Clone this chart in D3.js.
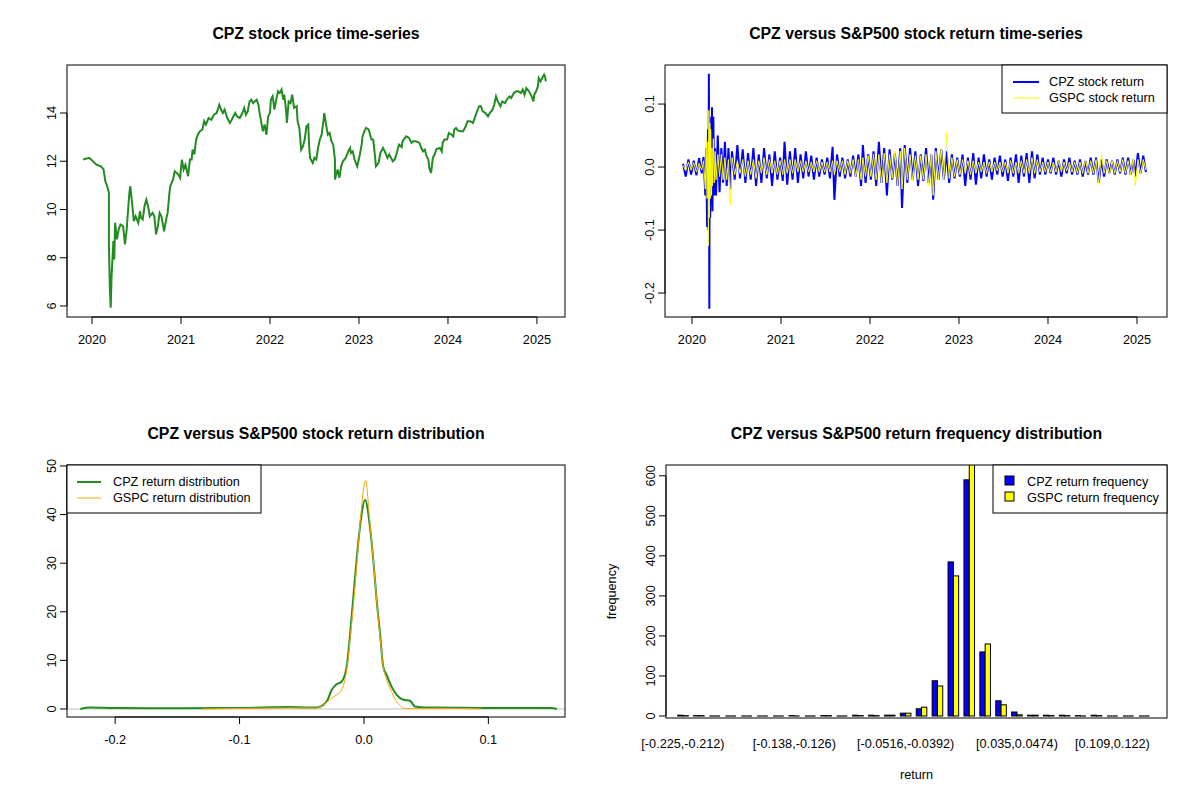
<!DOCTYPE html>
<meta charset="utf-8">
<head>
<title>CPZ vs S&amp;P500</title>
<style>
  body { margin: 0; background: #fff; }
  text { font-family: "Liberation Sans", Arial, sans-serif; fill: #000; }
  .title { font-size: 15.8px; font-weight: bold; }
  .tick { font-size: 12.7px; }
  .leg { font-size: 12.7px; }
</style>
</head>
<body>
<script src="https://cdn.jsdelivr.net/npm/d3@7"></script>
<script>
// ---- data ----
var priceDates = [2019.90,2019.97,2020.01,2020.05,2020.10,2020.13,2020.15,2020.17,2020.19,2020.19,2020.20,2020.21,2020.22,2020.24,2020.25,2020.26,2020.28,2020.30,2020.32,2020.35,2020.37,2020.39,2020.40,2020.42,2020.43,2020.45,2020.47,2020.49,2020.52,2020.54,2020.55,2020.57,2020.59,2020.61,2020.63,2020.65,2020.68,2020.70,2020.72,2020.74,2020.76,2020.78,2020.81,2020.84,2020.85,2020.87,2020.88,2020.91,2020.93,2020.97,2020.99,2021.01,2021.03,2021.05,2021.08,2021.10,2021.12,2021.13,2021.15,2021.17,2021.19,2021.21,2021.24,2021.26,2021.28,2021.31,2021.34,2021.37,2021.40,2021.43,2021.45,2021.47,2021.49,2021.52,2021.55,2021.57,2021.58,2021.61,2021.63,2021.66,2021.69,2021.71,2021.73,2021.75,2021.77,2021.79,2021.81,2021.85,2021.87,2021.88,2021.90,2021.92,2021.94,2021.96,2021.98,2022.00,2022.01,2022.03,2022.05,2022.07,2022.09,2022.11,2022.13,2022.15,2022.16,2022.18,2022.19,2022.21,2022.23,2022.25,2022.27,2022.30,2022.31,2022.33,2022.35,2022.37,2022.39,2022.41,2022.43,2022.44,2022.45,2022.48,2022.50,2022.52,2022.54,2022.56,2022.58,2022.60,2022.61,2022.63,2022.65,2022.67,2022.69,2022.71,2022.73,2022.73,2022.76,2022.78,2022.80,2022.82,2022.85,2022.88,2022.90,2022.91,2022.93,2022.95,2022.98,2023.01,2023.03,2023.04,2023.06,2023.08,2023.11,2023.14,2023.16,2023.18,2023.19,2023.22,2023.24,2023.27,2023.29,2023.32,2023.34,2023.36,2023.38,2023.40,2023.42,2023.45,2023.48,2023.49,2023.53,2023.56,2023.59,2023.61,2023.64,2023.68,2023.70,2023.72,2023.74,2023.76,2023.78,2023.79,2023.81,2023.83,2023.85,2023.87,2023.91,2023.93,2023.94,2023.96,2023.99,2024.01,2024.04,2024.06,2024.07,2024.09,2024.11,2024.14,2024.17,2024.20,2024.22,2024.25,2024.28,2024.30,2024.32,2024.35,2024.37,2024.39,2024.42,2024.45,2024.47,2024.50,2024.52,2024.54,2024.56,2024.59,2024.61,2024.64,2024.66,2024.69,2024.71,2024.74,2024.77,2024.79,2024.82,2024.84,2024.86,2024.88,2024.91,2024.94,2024.96,2024.97,2024.99,2025.01,2025.02,2025.04,2025.06,2025.08,2025.09,2025.10];
var priceValues = [12.07,12.14,12.00,11.86,11.79,11.66,11.17,10.97,10.69,8.55,6.83,5.93,7.24,8.69,7.93,9.45,8.76,9.17,9.38,9.31,8.55,9.17,9.72,10.69,10.97,10.28,9.52,9.72,9.45,9.93,9.66,9.59,10.14,10.41,10.14,9.72,9.86,9.72,8.97,9.31,9.86,9.72,9.10,9.72,9.86,10.69,10.97,11.24,11.59,11.45,11.31,12.07,11.66,11.86,11.38,12.07,12.07,12.48,12.28,12.90,13.10,13.24,13.31,13.66,13.52,13.79,13.72,13.93,14.00,14.34,14.14,14.00,14.14,13.79,13.59,13.72,13.79,14.00,13.86,13.79,14.00,14.21,13.93,14.07,14.48,14.55,14.41,14.55,14.34,14.07,13.66,13.24,13.52,13.10,13.86,14.00,14.55,14.69,14.14,14.55,14.90,14.83,14.97,14.55,14.76,14.14,13.59,14.48,14.41,14.76,14.21,14.28,13.66,13.38,12.48,12.62,12.90,13.45,13.52,12.62,12.14,11.93,12.14,12.07,12.55,12.90,13.10,13.66,14.00,13.52,13.10,13.17,12.83,12.69,12.07,11.24,11.66,11.31,11.79,12.00,12.14,12.41,12.55,12.34,12.41,12.07,11.79,12.28,12.69,13.03,13.24,13.38,13.31,12.90,12.90,12.21,11.79,11.93,12.34,12.55,12.41,12.14,12.28,12.14,12.00,12.07,12.28,12.69,12.59,12.83,13.03,12.97,12.76,12.83,12.83,12.76,12.55,12.41,12.48,12.21,12.07,11.72,11.52,12.14,12.28,12.51,12.55,12.41,12.76,12.90,12.90,13.17,13.10,13.03,13.31,13.38,13.28,13.24,13.24,13.45,13.66,13.66,13.59,13.79,14.00,14.28,14.28,14.07,14.00,13.86,14.00,14.14,14.34,14.69,14.48,14.28,14.48,14.41,14.55,14.69,14.62,14.83,14.90,14.90,14.83,14.97,14.76,15.03,14.90,14.69,14.48,14.76,14.90,15.10,15.45,15.31,15.45,15.59,15.52,15.31];

var retDates = [2019.90,2019.93,2019.96,2019.99,2020.02,2020.05,2020.08,2020.11,2020.13,2020.15,2020.16,2020.17,2020.18,2020.185,2020.19,2020.195,2020.20,2020.205,2020.21,2020.22,2020.225,2020.23,2020.24,2020.25,2020.26,2020.27,2020.29,2020.31,2020.33,2020.35,2020.37,2020.39,2020.41,2020.43,2020.45,2020.48,2020.51,2020.54,2020.57,2020.60,2020.63,2020.66,2020.69,2020.72,2020.75,2020.78,2020.81,2020.84,2020.87,2020.90,2020.93,2020.96,2020.99,2021.02,2021.04,2021.07,2021.10,2021.13,2021.16,2021.19,2021.22,2021.25,2021.28,2021.31,2021.34,2021.37,2021.40,2021.43,2021.46,2021.49,2021.52,2021.55,2021.58,2021.60,2021.63,2021.66,2021.69,2021.72,2021.75,2021.78,2021.81,2021.84,2021.87,2021.90,2021.92,2021.95,2021.98,2022.01,2022.04,2022.07,2022.10,2022.13,2022.16,2022.19,2022.22,2022.25,2022.28,2022.31,2022.34,2022.36,2022.39,2022.42,2022.45,2022.48,2022.51,2022.54,2022.57,2022.60,2022.63,2022.66,2022.69,2022.71,2022.74,2022.77,2022.80,2022.83,2022.86,2022.89,2022.92,2022.95,2022.98,2023.01,2023.04,2023.07,2023.10,2023.13,2023.16,2023.19,2023.22,2023.25,2023.28,2023.31,2023.34,2023.37,2023.40,2023.43,2023.46,2023.49,2023.52,2023.55,2023.58,2023.61,2023.64,2023.67,2023.70,2023.73,2023.76,2023.79,2023.82,2023.85,2023.88,2023.91,2023.94,2023.97,2024.00,2024.03,2024.06,2024.09,2024.12,2024.15,2024.18,2024.21,2024.24,2024.27,2024.30,2024.33,2024.36,2024.39,2024.42,2024.45,2024.48,2024.51,2024.54,2024.57,2024.60,2024.63,2024.66,2024.69,2024.72,2024.75,2024.78,2024.81,2024.84,2024.87,2024.90,2024.93,2024.96,2024.98,2025.01,2025.04,2025.07,2025.10];
var cpzReturns = [0.005,-0.015,0.012,-0.012,0.010,-0.013,0.014,-0.010,0.016,-0.045,0.030,-0.095,0.060,-0.100,0.148,-0.225,0.080,-0.080,0.050,-0.060,0.095,-0.070,0.080,-0.045,0.030,-0.045,0.050,-0.040,0.030,-0.025,0.040,-0.030,0.030,-0.035,0.025,-0.020,0.035,-0.018,0.028,-0.025,0.022,-0.020,0.030,-0.030,0.020,-0.025,0.030,-0.018,0.020,-0.030,0.025,-0.020,0.015,-0.022,0.040,-0.028,0.025,-0.020,0.030,-0.025,0.020,-0.018,0.025,-0.015,0.018,-0.020,0.015,-0.015,0.012,-0.012,0.015,-0.018,0.032,-0.052,0.020,-0.015,0.015,-0.018,0.012,-0.015,0.018,-0.015,0.020,-0.030,0.035,-0.025,0.020,-0.020,0.025,-0.030,0.040,-0.025,0.030,-0.045,0.028,-0.020,0.022,-0.030,0.030,-0.065,0.035,-0.025,0.030,-0.020,0.025,-0.030,0.020,-0.022,0.030,-0.025,0.020,-0.052,0.030,-0.020,0.028,-0.020,0.025,-0.025,0.020,-0.018,0.015,-0.015,0.020,-0.030,0.015,-0.020,0.022,-0.028,0.015,-0.018,0.020,-0.015,0.012,-0.020,0.015,-0.012,0.018,-0.015,0.012,-0.022,0.015,-0.015,0.020,-0.025,0.018,-0.015,0.022,-0.025,0.025,-0.018,0.020,-0.012,0.015,-0.012,0.012,-0.010,0.015,-0.012,0.010,-0.015,0.012,-0.010,0.015,-0.012,0.010,-0.012,0.012,-0.015,0.010,-0.012,0.015,-0.012,0.015,-0.025,0.012,-0.015,0.012,-0.010,0.010,-0.012,0.012,-0.010,0.015,-0.012,0.015,-0.012,0.012,-0.015,0.022,-0.010,0.018,-0.008];
var gspcReturns = [0.003,-0.006,0.008,-0.005,0.007,-0.008,0.006,-0.005,0.010,-0.035,0.045,-0.050,0.040,-0.125,0.090,-0.080,0.070,-0.050,0.060,-0.045,0.030,-0.030,0.045,-0.025,0.025,-0.020,0.020,-0.015,0.020,-0.020,0.015,-0.020,0.012,-0.060,0.015,-0.012,0.010,-0.010,0.012,-0.015,0.010,-0.012,0.012,-0.018,0.010,-0.010,0.015,-0.012,0.012,-0.010,0.010,-0.012,0.010,-0.012,0.012,-0.010,0.012,-0.010,0.012,-0.008,0.010,-0.008,0.010,-0.008,0.008,-0.008,0.010,-0.008,0.008,-0.008,0.008,-0.008,0.010,-0.012,0.010,-0.008,0.010,-0.012,0.010,-0.010,0.012,-0.015,0.012,-0.020,0.015,-0.015,0.018,-0.015,0.020,-0.020,0.020,-0.025,0.022,-0.025,0.020,-0.018,0.025,-0.030,0.025,-0.035,0.030,-0.020,0.020,-0.022,0.018,-0.020,0.018,-0.020,0.020,-0.030,0.022,-0.045,0.025,-0.020,0.030,-0.020,0.055,-0.018,0.015,-0.015,0.012,-0.012,0.012,-0.010,0.010,-0.012,0.010,-0.010,0.008,-0.008,0.008,-0.010,0.008,-0.008,0.008,-0.006,0.008,-0.008,0.008,-0.010,0.010,-0.010,0.008,-0.010,0.010,-0.010,0.012,-0.010,0.015,-0.010,0.012,-0.008,0.008,-0.008,0.008,-0.008,0.008,-0.008,0.010,-0.008,0.008,-0.006,0.008,-0.008,0.008,-0.010,0.008,-0.010,0.012,-0.010,0.010,-0.010,0.012,-0.028,0.020,-0.010,0.010,-0.012,0.010,-0.010,0.010,-0.008,0.012,-0.010,0.010,-0.012,0.015,-0.030,0.012,-0.010,0.012,-0.005];

var cpzDensX = [-0.228,-0.220,-0.200,-0.150,-0.100,-0.060,-0.045,-0.038,-0.030,-0.026,-0.022,-0.018,-0.0139,-0.0099,-0.0059,-0.0032,0.001,0.0048,0.0075,0.0102,0.0129,0.0155,0.0182,0.0222,0.0263,0.0316,0.037,0.041,0.050,0.060,0.100,0.150,0.155];
var cpzDensY = [0,0.3,0.2,0.15,0.2,0.4,0.3,0.3,1.5,3.9,5.1,5.6,8.7,19,30.7,37.5,43,37.5,30.7,22.4,15.6,8.7,7,4.6,2.9,1.9,1.7,0.5,0.3,0.3,0.2,0.2,0];
var gspcDensX = [-0.130,-0.100,-0.060,-0.045,-0.038,-0.033,-0.026,-0.022,-0.018,-0.0139,-0.0099,-0.0059,-0.0032,0.0013,0.0048,0.0075,0.0102,0.0129,0.0155,0.0182,0.0222,0.0263,0.034,0.045,0.060,0.095];
var gspcDensY = [0,0.1,0.2,0.2,0.2,0.8,2.2,2.9,3.9,8,17.6,29.3,38,47,38.2,30.7,22.4,14.9,8.7,6,3.6,1.5,0.1,0.1,0.15,0];

var cpzFreq  = [2,1,0,0,0,0,0,1,0,1,0,2,2,2,7,18,88,385,590,160,38,10,2,2,2,1,2,0,0,0];
var gspcFreq = [1,1,0,0,0,0,0,0,0,1,0,1,1,2,7,22,75,350,635,180,28,3,2,1,1,0,1,0,0,0];
var binTickIdx = [0,7,14,21,27];
var binTickLabels = ["[-0.225,-0.212)","[-0.138,-0.126)","[-0.0516,-0.0392)","[0.035,0.0474)","[0.109,0.122)"];

var svg = d3.select("body").append("svg").attr("width",1200).attr("height",800);

function frame(b){
  svg.append("rect").attr("x",b.l).attr("y",b.t).attr("width",b.r-b.l).attr("height",b.b-b.t)
    .attr("fill","none").attr("stroke","#000").attr("stroke-width",1);
}
function title(b, txt){
  svg.append("text").attr("class","title").attr("x",(b.l+b.r)/2).attr("y",b.t-26)
    .attr("text-anchor","middle").text(txt);
}
// R style axes: line from first to last tick, ticks outward
function xAxis(b, x, vals, fmt){
  var g = svg.append("g");
  g.append("line").attr("x1",x(vals[0])).attr("x2",x(vals[vals.length-1])).attr("y1",b.b).attr("y2",b.b).attr("stroke","#000");
  vals.forEach(function(v){
    g.append("line").attr("x1",x(v)).attr("x2",x(v)).attr("y1",b.b).attr("y2",b.b+7).attr("stroke","#000");
    g.append("text").attr("class","tick").attr("x",x(v)).attr("y",b.b+27).attr("text-anchor","middle").text(fmt(v));
  });
}
function yAxis(b, y, vals, fmt){
  var g = svg.append("g");
  g.append("line").attr("x1",b.l).attr("x2",b.l).attr("y1",y(vals[0])).attr("y2",y(vals[vals.length-1])).attr("stroke","#000");
  vals.forEach(function(v){
    g.append("line").attr("x1",b.l).attr("x2",b.l-7).attr("y1",y(v)).attr("y2",y(v)).attr("stroke","#000");
    g.append("text").attr("class","tick").attr("transform","translate("+(b.l-11)+","+y(v)+") rotate(-90)")
      .attr("text-anchor","middle").text(fmt(v));
  });
}
function clip(id,b){
  svg.append("clipPath").attr("id",id).append("rect").attr("x",b.l).attr("y",b.t).attr("width",b.r-b.l).attr("height",b.b-b.t);
}

// ---- panel 1: price ----
var b1 = {l:67,r:565,t:65,b:317};
var x1 = d3.scaleLinear().domain([2019.719,2025.315]).range([b1.l,b1.r]);
var y1 = d3.scaleLinear().domain([5.544,15.99]).range([b1.b,b1.t]);
svg.append("path").datum(d3.zip(priceDates,priceValues))
  .attr("d",d3.line().x(function(d){return x1(d[0]);}).y(function(d){return y1(d[1]);}))
  .attr("fill","none").attr("stroke","forestgreen").attr("stroke-width",2);
frame(b1); title(b1,"CPZ stock price time-series");
xAxis(b1,x1,[2020,2021,2022,2023,2024,2025],String);
yAxis(b1,y1,[6,8,10,12,14],String);

// ---- panel 2: returns ----
var b2 = {l:665,r:1167,t:65,b:317};
var x2 = d3.scaleLinear().domain([2019.697,2025.337]).range([b2.l,b2.r]);
var y2 = d3.scaleLinear().domain([-0.238,0.162]).range([b2.b,b2.t]);
var retLine = function(vals){
  return d3.line().x(function(d,i){return x2(retDates[i]);}).y(function(d){return y2(d);})(vals);
};
svg.append("path").attr("d",retLine(cpzReturns)).attr("fill","none").attr("stroke","blue").attr("stroke-width",2);
svg.append("path").attr("d",retLine(gspcReturns)).attr("fill","none").attr("stroke","yellow").attr("stroke-width",1);
frame(b2); title(b2,"CPZ versus S&P500 stock return time-series");
xAxis(b2,x2,[2020,2021,2022,2023,2024,2025],String);
yAxis(b2,y2,[-0.2,-0.1,0,0.1],function(v){return v===0?"0.0":String(v);});
var lg2 = svg.append("g");
lg2.append("rect").attr("x",1002).attr("y",65).attr("width",165).attr("height",48).attr("fill","#fff").attr("stroke","#000");
lg2.append("line").attr("x1",1013).attr("x2",1039).attr("y1",82).attr("y2",82).attr("stroke","blue").attr("stroke-width",2);
lg2.append("line").attr("x1",1013).attr("x2",1039).attr("y1",98).attr("y2",98).attr("stroke","yellow").attr("stroke-width",1);
lg2.append("text").attr("class","leg").attr("x",1049).attr("y",86).text("CPZ stock return");
lg2.append("text").attr("class","leg").attr("x",1049).attr("y",102).text("GSPC stock return");

// ---- panel 3: density ----
var b3 = {l:67,r:565,t:465,b:717};
var x3 = d3.scaleLinear().domain([-0.2387,0.1616]).range([b3.l,b3.r]);
var y3 = d3.scaleLinear().domain([-1.65,50.2]).range([b3.b,b3.t]);
svg.append("line").attr("x1",b3.l).attr("x2",b3.r).attr("y1",y3(0)).attr("y2",y3(0)).attr("stroke","#bebebe");
var densLine = function(xs,ys){
  return d3.line().curve(d3.curveMonotoneX).x(function(d,i){return x3(xs[i]);}).y(function(d){return y3(d);})(ys);
};
svg.append("path").attr("d",densLine(cpzDensX,cpzDensY)).attr("fill","none").attr("stroke","forestgreen").attr("stroke-width",2);
svg.append("path").attr("d",densLine(gspcDensX,gspcDensY)).attr("fill","none").attr("stroke","orange").attr("stroke-width",1);
frame(b3); title(b3,"CPZ versus S&P500 stock return distribution");
xAxis(b3,x3,[-0.2,-0.1,0,0.1],function(v){return v===0?"0.0":String(v);});
yAxis(b3,y3,[0,10,20,30,40,50],String);
var lg3 = svg.append("g");
lg3.append("rect").attr("x",67).attr("y",465).attr("width",194).attr("height",48).attr("fill","#fff").attr("stroke","#000");
lg3.append("line").attr("x1",77).attr("x2",101).attr("y1",482).attr("y2",482).attr("stroke","forestgreen").attr("stroke-width",2);
lg3.append("line").attr("x1",77).attr("x2",101).attr("y1",498).attr("y2",498).attr("stroke","orange").attr("stroke-width",1);
lg3.append("text").attr("class","leg").attr("x",113).attr("y",486).text("CPZ return distribution");
lg3.append("text").attr("class","leg").attr("x",113).attr("y",502).text("GSPC return distribution");

// ---- panel 4: frequency barplot ----
var b4 = {l:666,r:1167,t:465,b:718};
var x4 = d3.scaleLinear().domain([-2.2,92.3]).range([b4.l,b4.r]);
var y4 = d3.scaleLinear().domain([0,627]).range([716,b4.t]);
clip("c4",b4);
var bars = svg.append("g").attr("clip-path","url(#c4)");
[[cpzFreq,"blue",1],[gspcFreq,"yellow",2]].forEach(function(s){
  var w = x4(1)-x4(0);
  bars.selectAll(null).data(s[0]).enter().append("rect")
    .attr("x",function(d,i){return x4(3*i+s[2]-1);})
    .attr("width",w)
    .attr("y",function(d){return y4(d);})
    .attr("height",function(d){return Math.max(0,y4(0)-y4(d));})
    .attr("fill",s[1]).attr("stroke","#000").attr("stroke-width",1);
  // empty bins still show as a flat outline, as in R
  bars.selectAll(null).data(s[0]).enter().filter(function(d){return d===0;}).append("line")
    .attr("x1",function(d,i){return x4(3*s[0].indexOf(d,0)+s[2]-1);});
});
bars.selectAll("line").remove();
[[cpzFreq,1],[gspcFreq,2]].forEach(function(s){
  s[0].forEach(function(d,i){
    if (d===0) {
      bars.append("line").attr("x1",x4(3*i+s[1]-1)).attr("x2",x4(3*i+s[1]))
        .attr("y1",y4(0)).attr("y2",y4(0)).attr("stroke","#000").attr("stroke-width",1.2);
    }
  });
});
frame(b4); title(b4,"CPZ versus S&P500 return frequency distribution");
yAxis(b4,y4,[0,100,200,300,400,500,600],String);
binTickIdx.forEach(function(k,j){
  svg.append("text").attr("class","tick").attr("x",x4(3*k+1)).attr("y",748).attr("text-anchor","middle").text(binTickLabels[j]);
});
svg.append("text").attr("class","tick").attr("x",(b4.l+b4.r)/2).attr("y",779).attr("text-anchor","middle").text("return");
svg.append("text").attr("class","tick").attr("transform","translate(616,"+((b4.t+b4.b)/2)+") rotate(-90)")
  .attr("text-anchor","middle").text("frequency");
var lg4 = svg.append("g");
lg4.append("rect").attr("x",993).attr("y",465).attr("width",174).attr("height",48).attr("fill","#fff").attr("stroke","#000");
lg4.append("rect").attr("x",1005).attr("y",476).attr("width",9).attr("height",9).attr("fill","blue").attr("stroke","#000");
lg4.append("rect").attr("x",1005).attr("y",492).attr("width",9).attr("height",9).attr("fill","yellow").attr("stroke","#000");
lg4.append("text").attr("class","leg").attr("x",1027).attr("y",486).text("CPZ return frequency");
lg4.append("text").attr("class","leg").attr("x",1027).attr("y",502).text("GSPC return frequency");
</script>
</body>
</html>
